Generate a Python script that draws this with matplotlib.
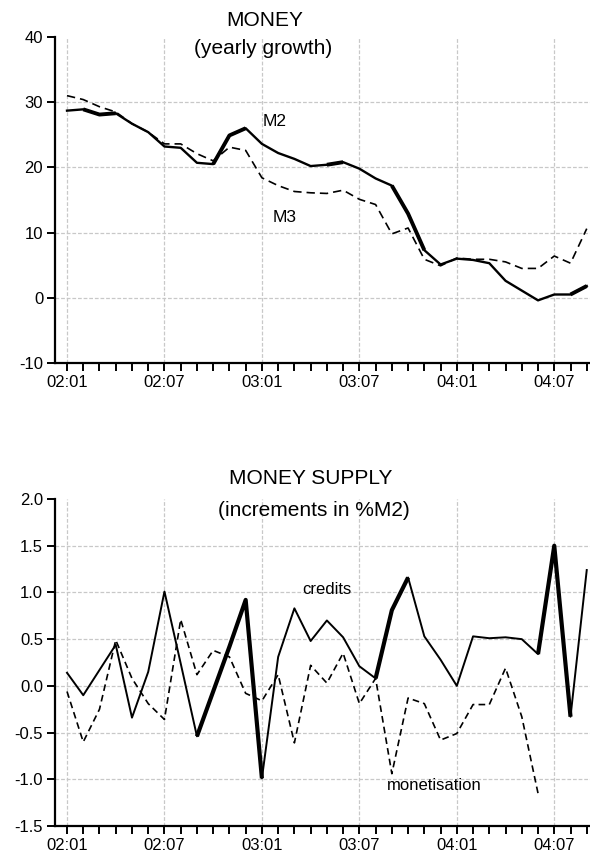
import numpy as np
import matplotlib
matplotlib.use("Agg")
import matplotlib.pyplot as plt

plt.rcParams['font.family'] = ['Liberation Sans', 'DejaVu Sans']

# months 02:01 .. 04:09
months = ["%02d:%02d" % (y, m) for y in (2, 3, 4) for m in range(1, 13)][:33]

# yearly growth, %
m2 = [28.7, 28.9, 28.1, 28.3, 26.7, 25.4, 23.2, 23.0, 20.7, 20.5, 24.9, 26.0,
      23.6, 22.2, 21.3, 20.2, 20.4, 20.8, 19.8, 18.3, 17.2, 12.9, 7.3, 5.1,
      6.0, 5.8, 5.3, 2.6, 1.1, -0.4, 0.5, 0.5, 1.8]
m3 = [31.0, 30.4, 29.3, 28.5, 26.7, 25.4, 23.6, 23.6, 22.1, 21.0, 23.1, 22.6,
      18.4, 17.2, 16.3, 16.1, 16.0, 16.5, 15.1, 14.3, 9.8, 10.7, 5.9, 4.9,
      6.1, 5.9, 5.9, 5.5, 4.5, 4.5, 6.4, 5.3, 10.6]

# increments in %M2
credits = [0.14, -0.10, 0.17, 0.44, -0.34, 0.15, 1.01, 0.24, -0.54, -0.06,
           0.42, 0.92, -0.99, 0.31, 0.83, 0.48, 0.70, 0.52, 0.21, 0.08,
           0.81, 1.16, 0.53, 0.28, 0.0, 0.53, 0.51, 0.52, 0.50, 0.34,
           1.50, -0.33, 1.24]
monetisation = [-0.06, -0.60, -0.25, 0.49, 0.08, -0.19, -0.36, 0.71, 0.12, 0.38,
                 0.31, -0.08, -0.16, 0.12, -0.61, 0.22, 0.03, 0.35, -0.19, 0.08,
                 -0.94, -0.13, -0.19, -0.58, -0.51, -0.20, -0.20, 0.19, -0.33, -1.15]

# segments drawn heavier in the original
m2_thick = [(1, 3), (9, 11), (16, 17), (20, 22), (31, 32)]
credits_thick = [(8, 12), (19, 21), (29, 31)]

x = np.arange(len(months))
grid_col = "#c8c8c8"


def style_axes(ax, ylim, yticks, yfmt):
    ax.set_xlim(-0.74, 32.2)
    ax.set_ylim(*ylim)
    ax.set_yticks(yticks)
    ax.set_yticklabels([yfmt % v for v in yticks])
    ax.set_xticks(x[::6])
    ax.set_xticklabels(months[::6])
    ax.set_xticks(x, minor=True)
    for s in ("top", "right"):
        ax.spines[s].set_visible(False)
    for s in ("left", "bottom"):
        ax.spines[s].set_linewidth(1.6)
    ax.tick_params(axis="both", which="both", direction="out", length=6,
                   width=1.4, labelsize=12, colors="black", pad=2.5)
    ax.grid(True, which="major", color=grid_col, linestyle=(0, (3, 1.5)), linewidth=0.9)
    ax.get_ygridlines()[-1].set_visible(False)
    ax.set_axisbelow(True)


def thick_segments(ax, xs, ys, spans, lw):
    for a, b in spans:
        ax.plot(xs[a:b + 1], ys[a:b + 1], color="black", lw=lw,
                solid_capstyle="butt", zorder=3)


fig = plt.figure(figsize=(5.9, 8.52), dpi=100)

ax1 = fig.add_axes([0.0932, 0.574, 0.9068, 0.3826])
ax1.plot(x, m2, color="black", lw=1.7, zorder=3)
thick_segments(ax1, x, m2, m2_thick, 2.8)
ax1.plot(x, m3, color="black", lw=1.2, linestyle=(0, (5, 3)), zorder=3)
style_axes(ax1, (-10, 40), [-10, 0, 10, 20, 30, 40], "%d")
ax1.text(263 / 590, 1 - 121 / 852, "M2", transform=fig.transFigure,
         fontsize=12.5, va="center", ha="left")
ax1.text(273 / 590, 1 - 217 / 852, "M3", transform=fig.transFigure,
         fontsize=12.5, va="center", ha="left")
fig.text(265 / 590, 1 - 20 / 852, "MONEY", fontsize=15, ha="center", va="center")
fig.text(263 / 590, 1 - 48 / 852, "(yearly growth)", fontsize=15, ha="center", va="center")

ax2 = fig.add_axes([0.0932, 0.0305, 0.9068, 0.3838])
ax2.plot(x, credits, color="black", lw=1.4, zorder=3)
thick_segments(ax2, x, credits, credits_thick, 3.0)
ax2.plot(x[:len(monetisation)], monetisation, color="black", lw=1.2,
         linestyle=(0, (4, 2.5)), zorder=3)
style_axes(ax2, (-1.5, 2.0), [-1.5, -1.0, -0.5, 0.0, 0.5, 1.0, 1.5, 2.0], "%.1f")
ax2.text(302 / 590, 1 - 589 / 852, "credits", transform=fig.transFigure,
         fontsize=12, va="center", ha="left")
ax2.text(387 / 590, 1 - 785 / 852, "monetisation", transform=fig.transFigure,
         fontsize=12, va="center", ha="left")
fig.text(311 / 590, 1 - 478 / 852, "MONEY SUPPLY", fontsize=15, ha="center", va="center")
fig.text(314 / 590, 1 - 510 / 852, "(increments in %M2)", fontsize=15, ha="center", va="center")

fig.savefig("out.png", dpi=100)
